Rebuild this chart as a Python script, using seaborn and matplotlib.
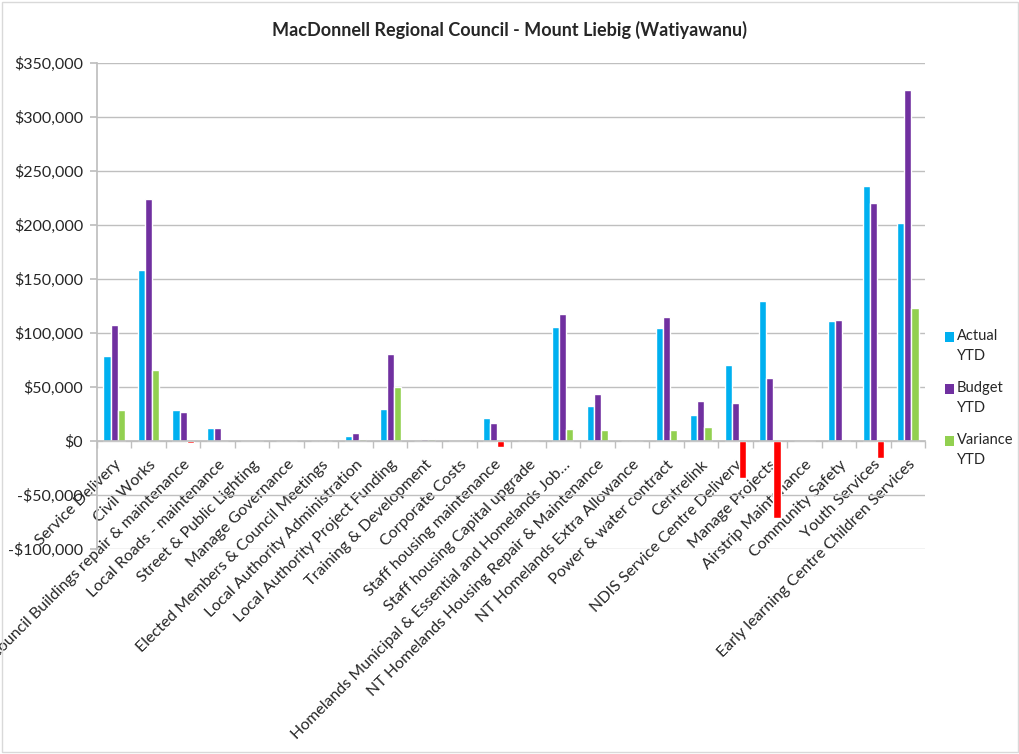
import matplotlib
matplotlib.use("Agg")
import matplotlib.pyplot as plt
import matplotlib.ticker as mticker
from matplotlib.patches import Rectangle
import seaborn as sns
import pandas as pd
import numpy as np

categories = [
    "Service Delivery", "Civil Works", "Council Buildings repair & maintenance",
    "Local Roads - maintenance", "Street & Public Lighting", "Manage Governance",
    "Elected Members & Council Meetings", "Local Authority Administration",
    "Local Authority Project Funding", "Training & Development", "Corporate Costs",
    "Staff housing maintenance", "Staff housing Capital upgrade",
    "Homelands Municipal & Essential and Homelands Job\u2026",
    "NT Homelands Housing Repair & Maintenance", "NT Homelands Extra Allowance",
    "Power & water contract", "Centrelink", "NDIS Service Centre Delivery",
    "Manage Projects", "Airstrip Maintenance", "Community Safety",
    "Youth Services", "Early learning Centre Children Services",
]
actual_ytd = [79000, 158700, 28700, 11700, 500, 0, 0, 4600, 30000, 0, 700,
              21600, 0, 105900, 32400, 0, 104600, 23800, 70000, 130000, 0,
              110800, 236100, 201900]
budget_ytd = [107800, 224000, 27200, 11700, 1000, 0, 0, 7100, 80300, 2200, 700,
              16700, 0, 117300, 43200, 0, 114800, 37000, 35500, 58700, 500,
              112400, 220400, 325400]
variance_ytd = [28700, 65500, -1800, 0, 500, -300, -300, 2200, 50000, 2200, -300,
                -5200, 0, 11500, 10500, -500, 9900, 13300, -34500, -71600, 500,
                1000, -15400, 123500]
series_names = ["Actual\nYTD", "Budget\nYTD", "Variance\nYTD"]
series_colors = ["#00B0F0", "#7030A0", "#92D050"]
negative_color = "#FF0000"

df = pd.DataFrame({
    "category": categories * 3,
    "series": np.repeat(series_names, len(categories)),
    "value": actual_ytd + budget_ytd + variance_ytd,
})

sns.set_theme(style="white")
plt.rcParams["font.family"] = ["Lato", "DejaVu Sans"]

W, H = 1020, 754
fig = plt.figure(figsize=(W / 100, H / 100), dpi=100)
ax = fig.add_axes([0.095, 0.272, 0.812, 0.6445])

sns.barplot(data=df, x="category", y="value", hue="series",
            palette=series_colors, width=0.62, gap=0, saturation=1,
            ax=ax, legend=False, errorbar=None)

for p, v in zip(ax.containers[2], variance_ytd):
    if v < 0:
        p.set_facecolor(negative_color)

ax.set_ylim(-100000, 350000)
ax.set_xlim(-0.5, len(categories) - 0.5)
ax.yaxis.set_major_locator(mticker.MultipleLocator(50000))
ax.yaxis.set_major_formatter(mticker.FuncFormatter(
    lambda v, _: ("-$" if v < 0 else "$") + f"{abs(int(v)):,}"))
ax.grid(axis="y", color="#BFBFBF", linewidth=1.0)
ax.set_axisbelow(True)
for s in ["top", "right"]:
    ax.spines[s].set_visible(False)
ax.spines["left"].set_color("#BFBFBF")
ax.spines["bottom"].set_color("#BFBFBF")
ax.spines["bottom"].set_position(("data", 0))
ax.tick_params(axis="y", length=5, color="#BFBFBF", labelsize=11.5, pad=5,
               direction="out", left=True)
ax.set_xticks(range(len(categories)))
ax.set_xticklabels(categories, rotation=45, ha="right", va="top",
                   rotation_mode="anchor", fontsize=11.5)
ax.tick_params(axis="x", which="major", length=0, pad=12)
ax.set_xticks(np.arange(-0.5, len(categories)), minor=True)
ax.tick_params(axis="x", which="minor", length=5, color="#BFBFBF",
               direction="out", bottom=True)
ax.set_xlabel("")
ax.set_ylabel("")

fig.text(0.5, 1 - 30 / H, "MacDonnell Regional Council - Mount Liebig (Watiyawanu)",
         ha="center", va="center", fontsize=13, fontweight="bold")

# legend drawn manually (Excel style: swatch aligned with first line)
for i, (name, c) in enumerate(zip(series_names, series_colors)):
    yc = 337 + 52 * i
    fig.patches.append(Rectangle((945 / W, 1 - (yc + 5) / H), 9 / W, 10 / H,
                                 transform=fig.transFigure, facecolor=c,
                                 edgecolor="none"))
    fig.text(957 / W, 1 - (yc - 8) / H, name, ha="left", va="top",
             fontsize=10.5, linespacing=1.55)

fig.patches.append(Rectangle((0.002, 0.002), 0.996, 0.996,
                             transform=fig.transFigure, fill=False,
                             edgecolor="#D9D9D9", linewidth=1))

fig.savefig("out.png", dpi=100)
